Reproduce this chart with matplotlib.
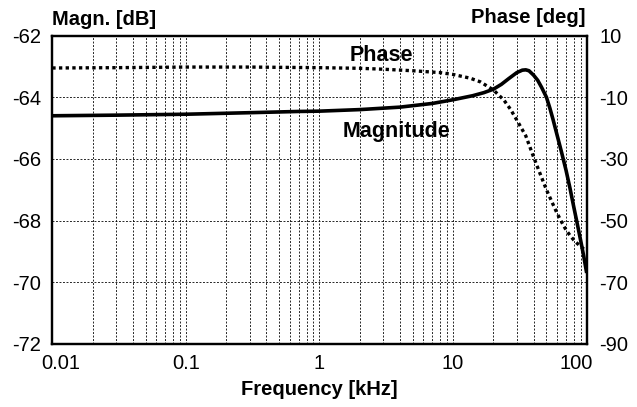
import matplotlib
matplotlib.use("Agg")
import matplotlib.pyplot as plt
from matplotlib.ticker import LogLocator, NullFormatter
from matplotlib.transforms import ScaledTranslation

plt.rcParams['font.family'] = ['Liberation Sans', 'DejaVu Sans']

# Magnitude data (dB) vs frequency (kHz)
mag_freq = [0.01, 0.03, 0.1, 0.3, 0.7, 1, 2, 4, 7, 10, 14, 17, 20, 23, 26, 30, 33, 35, 37,
            40, 43, 46, 50, 53, 56, 60, 65, 70, 75, 80, 85, 90, 95, 100]
mag_db = [-64.6, -64.58, -64.55, -64.5, -64.46, -64.45, -64.4, -64.32, -64.2, -64.08, -63.95,
          -63.85, -63.74, -63.58, -63.4, -63.2, -63.12, -63.11, -63.14,
          -63.28, -63.45, -63.68, -64.0, -64.35, -64.72, -65.22, -65.8, -66.36, -66.95, -67.55,
          -68.1, -68.63, -69.15, -69.7]

# Phase data (deg) vs frequency (kHz)
ph_freq = [0.01, 0.03, 0.1, 0.3, 1, 2, 3, 5, 8, 10, 13.4, 16, 20, 24, 27, 30, 35, 40, 45,
           50, 55, 60, 65, 70, 75, 80, 85, 90, 97]
ph_deg = [-0.5, -0.4, -0.2, -0.2, -0.4, -0.6, -0.9, -1.4, -2.0, -2.6, -3.8, -5.0, -7.6, -10.9,
          -14.0, -17.4, -22.5, -29.3, -35.0, -40.0, -44.0, -47.6, -50.5, -53.0, -54.8,
          -56.3, -57.4, -58.4, -59.5]

left_ticks = [-72, -70, -68, -66, -64, -62]
right_ticks = [-90, -70, -50, -30, -10, 10]
x_ticks = [0.01, 0.1, 1, 10, 100]
x_ticklabels = ['0.01', '0.1', '1', '10', '100']

FS = 14.5

fig = plt.figure(figsize=(6.37, 4.07), dpi=100)
ax = fig.add_axes([0.0821, 0.155, 0.921 - 0.0821, 0.9125 - 0.155])
ax2 = ax.twinx()

ax.set_xscale('log')
ax.set_xlim(0.01, 100)
ax.set_ylim(-72, -62)
ax2.set_ylim(-90, 10)

ax.set_xticks(x_ticks)
ax.set_xticklabels(x_ticklabels)
ax.xaxis.set_minor_locator(LogLocator(base=10, subs=range(2, 10)))
ax.xaxis.set_minor_formatter(NullFormatter())
ax.set_yticks(left_ticks)
ax.set_yticklabels([str(v) for v in left_ticks])
ax2.set_yticks(right_ticks)
ax2.set_yticklabels([str(v) for v in right_ticks])

grid_kw = dict(color='black', linestyle=(0, (2.0, 1.6)), linewidth=0.7, alpha=0.85)
ax.grid(True, which='major', axis='both', **grid_kw)
ax.grid(True, which='minor', axis='x', **grid_kw)

for a in (ax, ax2):
    a.tick_params(which='both', length=0, labelsize=FS)
    for s in a.spines.values():
        s.set_linewidth(1.6)
        s.set_color('black')
ax.tick_params(axis='y', pad=8)
ax2.tick_params(axis='y', pad=9)
ax.tick_params(axis='x', pad=7)

# nudge the end x tick labels inward like the reference
xl = ax.get_xticklabels()
xl[0].set_transform(xl[0].get_transform() + ScaledTranslation(8 / 100, 0, fig.dpi_scale_trans))
xl[-1].set_transform(xl[-1].get_transform() + ScaledTranslation(-10 / 100, 0, fig.dpi_scale_trans))

ax.plot(mag_freq, mag_db, color='black', linewidth=2.6, solid_capstyle='butt', zorder=5)
ax2.plot(ph_freq, ph_deg, color='black', linewidth=2.4, linestyle=(0, (1.0, 1.0)), zorder=5)

ax.set_xlabel('Frequency [kHz]', fontsize=FS, fontweight='bold', labelpad=5)
fig.text(0.0821, 0.951, 'Magn. [dB]', fontsize=FS, fontweight='bold', ha='left', va='center')
fig.text(0.919, 0.956, 'Phase [deg]', fontsize=FS, fontweight='bold', ha='right', va='center')

ax.text(1.69, -62.63, 'Phase', fontsize=15.5, fontweight='bold', ha='left', va='center', zorder=6)
ax.text(1.5, -65.1, 'Magnitude', fontsize=15.5, fontweight='bold', ha='left', va='center', zorder=6)

fig.savefig('out.png', dpi=100)
